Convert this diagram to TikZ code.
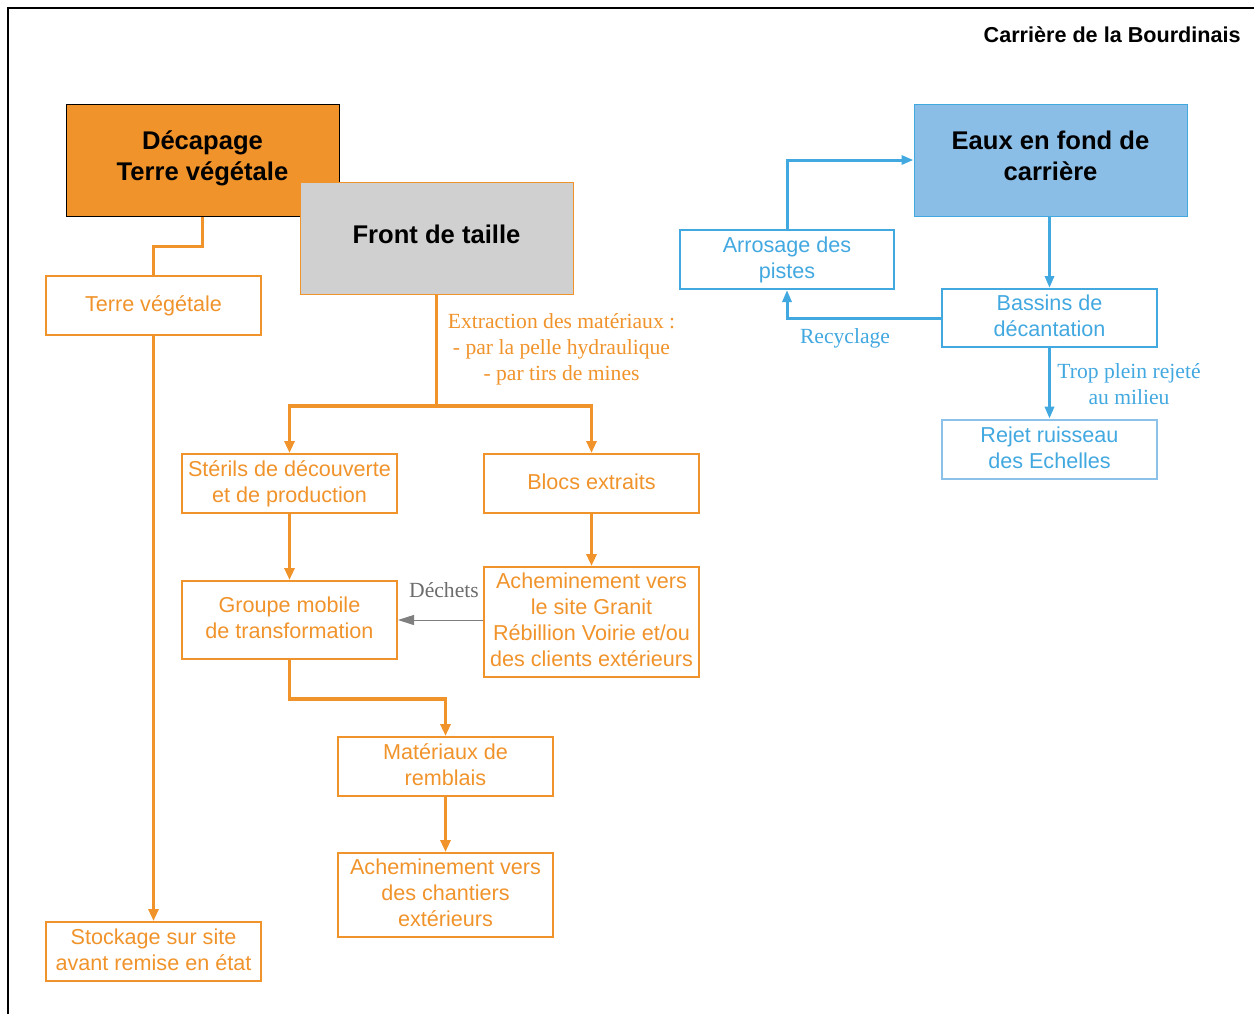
\documentclass[tikz,border=0pt]{standalone}
\usepackage{fontspec}
\setmainfont{Liberation Sans}
\newfontfamily\seriffont{Liberation Serif}
\usetikzlibrary{arrows.meta}
\definecolor{qorange}{HTML}{F0932B}
\definecolor{qblue}{HTML}{42A8E0}
\definecolor{qbluefill}{HTML}{8BBEE6}
\definecolor{qbluelight}{HTML}{8CC1EA}
\definecolor{qgray}{HTML}{7F7F7F}
\tikzset{
  obox/.style={draw=qorange, line width=1pt, text=qorange, align=center, inner sep=0pt,
    text depth=2.2pt, font=\fontsize{10.8}{13}\selectfont},
  bbox/.style={draw=qblue, line width=1pt, text=qblue, align=center, inner sep=0pt,
    text depth=2.2pt, font=\fontsize{10.8}{13}\selectfont},
  headbox/.style={line width=0.5pt, align=center, inner sep=0pt, text=black,
    minimum width=136.5pt, minimum height=56pt, text depth=4pt,
    font=\bfseries\fontsize{12.8}{15.5}\selectfont},
  oline/.style={draw=qorange, line width=1.6pt},
  oarr/.style={oline, -{Triangle[length=6pt,width=5pt]}},
  bline/.style={draw=qblue, line width=1.5pt},
  barr/.style={bline, -{Triangle[length=6pt,width=4.5pt]}},
  garr/.style={draw=qgray, line width=0.5pt, -{Triangle[length=8pt,width=5pt]}},
  lbl/.style={align=center, inner sep=0pt, font=\seriffont\fontsize{10.8}{13}\selectfont},
}
\begin{document}
\begin{tikzpicture}[x=0.5pt,y=-0.5pt]
\useasboundingbox (0,0) rectangle (1254,1014);
% frame
\draw[line width=1.1pt, black] (8,1014) -- (8,8) -- (1254,8);
\node[anchor=east, inner sep=0pt, font=\bfseries\fontsize{10.8}{13}\selectfont] (title) at (1241,35) {Carrière de la Bourdinais};

% orange part
\node[headbox, draw=black, fill=qorange] (dec) at (202.5,160) {Décapage\\Terre végétale};
\node[headbox, draw=qorange, fill={rgb,255:red,208;green,208;blue,208}] (front) at (436.5,238) {Front de taille};
\node[obox, minimum width=107.5pt, minimum height=29.5pt] (terre) at (153.5,305.5) {Terre végétale};
\node[obox, minimum width=107.5pt, minimum height=29.5pt] (stock) at (153.5,951.5) {Stockage sur site\\avant remise en état};
\node[obox, minimum width=107.5pt, minimum height=29.5pt] (steril) at (289.5,483.5) {Stérils de découverte\\et de production};
\node[obox, minimum width=107.5pt, minimum height=29.5pt] (blocs) at (591.5,483.5) {Blocs extraits};
\node[obox, minimum width=107.5pt, minimum height=39pt] (groupe) at (289.5,620) {Groupe mobile\\de transformation};
\node[obox, minimum width=107.5pt, minimum height=55pt] (ach1) at (591.5,622) {Acheminement vers\\le site Granit\\Rébillion Voirie et/ou\\des clients extérieurs};
\node[obox, minimum width=107.5pt, minimum height=29.5pt] (mat) at (445.5,766.5) {Matériaux de\\remblais};
\node[obox, minimum width=107.5pt, minimum height=42pt] (ach2) at (445.5,895) {Acheminement vers\\des chantiers\\extérieurs};

\draw[oline] (dec.south) -- ++(0,30) -| (terre.north);
\draw[oarr] (terre.south) -- (stock.north);
\coordinate (fj) at (436.5,406);
\draw[oline] (front.south) -- (fj);
\draw[oarr] (fj) -| (steril.north);
\draw[oarr] (fj) -| (blocs.north);
\draw[oarr] (steril.south) -- (groupe.north);
\draw[oarr] (blocs.south) -- (ach1.north);
\draw[oarr] (groupe.south) -- ++(0,39) -| (mat.north);
\draw[oarr] (mat.south) -- (ach2.north);
\draw[garr] (groupe.east -| ach1.west) -- (groupe.east);

\node[lbl, text=qorange] (extr) at (561.5,349) {Extraction des matériaux :\\- par la pelle hydraulique\\- par tirs de mines};
\node[lbl, text=qgray!85!black] (dech) at (444,590) {Déchets};

% blue part
\node[headbox, draw=qblue, fill=qbluefill] (eaux) at (1050.5,160) {Eaux en fond de\\carrière};
\node[bbox, minimum width=107pt, minimum height=29.5pt] (arros) at (787,259.5) {Arrosage des\\pistes};
\node[bbox, minimum width=107.5pt, minimum height=29pt] (bassins) at (1049.5,318) {Bassins de\\décantation};
\node[bbox, draw=qbluelight, line width=1.3pt, minimum width=107.5pt, minimum height=29.5pt] (rejet) at (1049.5,449.5) {Rejet ruisseau\\des Echelles};

\draw[barr] (bassins.north |- eaux.south) -- (bassins.north);
\draw[barr] (arros.north) |- (eaux.west);
\draw[barr] (bassins.west) -| (arros.south);
\draw[barr] (bassins.south) -- (rejet.north);

\node[lbl, text=qblue] (recy) at (845,338) {Recyclage};
\node[lbl, text=qblue] (trop) at (1129,384.5) {Trop plein rejeté\\au milieu};
\end{tikzpicture}
\end{document}
